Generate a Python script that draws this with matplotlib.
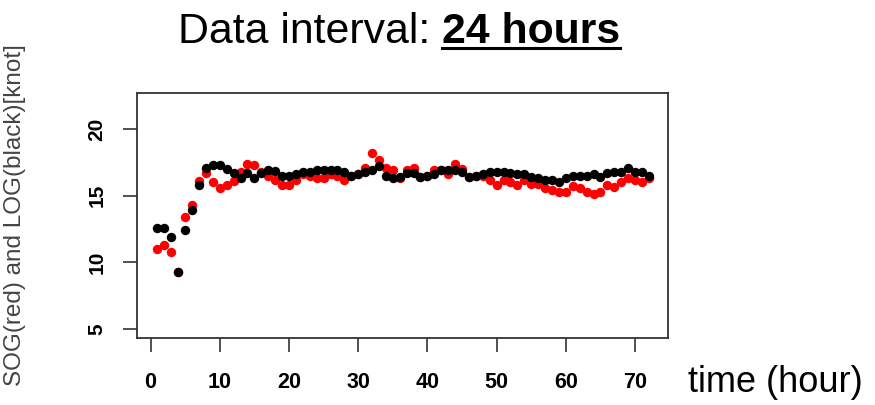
import matplotlib
matplotlib.use("Agg")
import matplotlib.pyplot as plt
from matplotlib.lines import Line2D

hours = list(range(1, 73))

sog_red = [11.0, 11.3, 10.8, 9.3, 13.4, 14.3, 16.1, 16.7, 16.05, 15.6,
           15.8, 16.1, 16.75, 17.4, 17.3, 16.75, 16.5, 16.2, 15.8, 15.8,
           16.2, 16.6, 16.45, 16.3, 16.3, 16.6, 16.5, 16.2, 16.45, 16.6,
           17.1, 18.2, 17.7, 17.1, 16.9, 16.3, 16.9, 17.1, 16.4, 16.45,
           16.95, 16.9, 16.6, 17.4, 17.0, 16.4, 16.45, 16.5, 16.2, 15.8,
           16.2, 16.05, 15.8, 16.2, 15.9, 15.9, 15.55, 15.4, 15.3, 15.3,
           15.7, 15.55, 15.3, 15.15, 15.3, 15.8, 15.65, 16.05, 16.3, 16.2,
           16.05, 16.3]

log_black = [12.6, 12.6, 11.9, 9.3, 12.4, 13.9, 15.8, 17.1, 17.3, 17.3,
             17.0, 16.7, 16.3, 16.7, 16.3, 16.7, 16.9, 16.85, 16.5, 16.5,
             16.6, 16.75, 16.75, 16.9, 16.9, 16.9, 16.9, 16.75, 16.5, 16.6,
             16.75, 16.9, 17.2, 16.5, 16.3, 16.4, 16.7, 16.7, 16.4, 16.5,
             16.6, 16.9, 16.9, 16.9, 16.75, 16.4, 16.5, 16.6, 16.8, 16.8,
             16.8, 16.7, 16.6, 16.6, 16.4, 16.3, 16.2, 16.2, 16.05, 16.3,
             16.45, 16.45, 16.45, 16.6, 16.4, 16.7, 16.8, 16.8, 17.05, 16.8,
             16.8, 16.45]

x_ticks = [0, 10, 20, 30, 40, 50, 60, 70]
y_ticks = [5, 10, 15, 20]

W, H = 875, 405
fig = plt.figure(figsize=(W / 100, H / 100), dpi=100)
ax = fig.add_axes([136.7 / W, 1 - 338.3 / H, (668.3 - 136.7) / W, (338.3 - 92.7) / H])

# red first, black on top (as in the original R plot)
ax.scatter(hours, sog_red, s=46, color="#ff0000", linewidths=0, zorder=2)
ax.scatter(hours, log_black, s=46, color="#000000", linewidths=0, zorder=3)

ax.set_xlim(-2.0, 74.8)
ax.set_ylim(4.3, 22.73)

for sp in ax.spines.values():
    sp.set_color("#333333")
    sp.set_linewidth(1.3)

ax.set_xticks(x_ticks)
ax.set_yticks(y_ticks)
ax.set_xticklabels([str(v) for v in x_ticks], family="Liberation Sans",
                   fontweight="bold", fontsize=15.5)
ax.set_yticklabels([str(v) for v in y_ticks], family="Liberation Sans",
                   fontweight="bold", fontsize=15, rotation=90, va="center")
ax.tick_params(axis="both", length=10, width=1.2, color="#333333")
ax.tick_params(axis="x", pad=14)
ax.tick_params(axis="y", pad=12)

fig.text(15 / W, 1 - 215 / H, "SOG(red) and LOG(black)[knot]", rotation=90,
         ha="center", va="center", family="Liberation Sans",
         fontsize=17.5, color="#444444")

fig.text(688 / W, 1 - 382 / H, "time (hour)", ha="left", va="center",
         family="Liberation Sans", fontsize=26)

# title: regular part + bold underlined part
base_y = 1 - 43 / H
fig.text(178 / W, base_y, "Data interval:", ha="left", va="baseline",
         family="Liberation Sans", fontsize=30.8)
bold = fig.text(442 / W, base_y, "24 hours", ha="left", va="baseline",
                family="Liberation Sans", fontweight="bold", fontsize=30.8)

renderer = fig.canvas.get_renderer()
bb = bold.get_window_extent(renderer)
uy = 1 - 47.5 / H
fig.add_artist(Line2D([bb.x0 / W, bb.x1 / W], [uy, uy], color="black",
                      linewidth=2.2, transform=fig.transFigure))

fig.savefig("out.png", dpi=100)
